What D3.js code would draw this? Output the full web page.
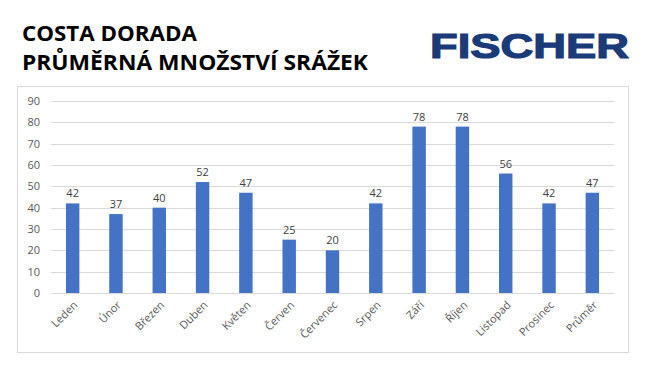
<!DOCTYPE html>
<html>
<head>
<meta charset="utf-8" />
<script src="https://d3js.org/d3.v7.min.js"></script>
<style>
  body { margin: 0; background: #fff; }
  svg { display: block; }
</style>
</head>
<body>
<div id="chart"></div>
<script>
  // data
  const months = ["Leden", "Únor", "Březen", "Duben", "Květen", "Červen", "Červenec",
                  "Srpen", "Září", "Říjen", "Listopad", "Prosinec", "Průměr"];
  const srazky = [42, 37, 40, 52, 47, 25, 20, 42, 78, 78, 56, 42, 47];
  const yTicks = [0, 10, 20, 30, 40, 50, 60, 70, 80, 90];
  const titleLines = ["COSTA DORADA", "PRŮMĚRNÁ MNOŽSTVÍ SRÁŽEK"];
  const titleWidths = [175, 346];

  const W = 648, H = 371;
  const margin = { top: 101, right: 34, bottom: 78, left: 51 },
      width = W - margin.left - margin.right,
      height = H - margin.top - margin.bottom;

  const svg = d3.select("#chart").append("svg")
      .attr("width", W).attr("height", H);

  // titles
  svg.selectAll(".title")
      .data(titleLines)
      .join("text")
      .attr("x", 22)
      .attr("y", (d, i) => 41 + i * 29)
      .attr("font-family", "Open Sans, sans-serif")
      .attr("font-weight", 700)
      .attr("font-size", 22)
      .attr("textLength", (d, i) => titleWidths[i])
      .attr("lengthAdjust", "spacingAndGlyphs")
      .attr("fill", "#000")
      .text(d => d);

  // logo text
  svg.append("text")
      .attr("x", 430).attr("y", 58)
      .attr("font-family", "Liberation Sans, Arial, sans-serif")
      .attr("font-weight", 700)
      .attr("font-size", 35)
      .attr("textLength", 199)
      .attr("lengthAdjust", "spacingAndGlyphs")
      .attr("fill", "#1b3b78")
      .attr("stroke", "#1b3b78")
      .attr("stroke-width", 1.2)
      .text("FISCHER");

  // chart border
  svg.append("rect")
      .attr("x", 17.5).attr("y", 86.5)
      .attr("width", 611).attr("height", 266)
      .attr("fill", "none")
      .attr("stroke", "#d9d9d9");

  const g = svg.append("g")
      .attr("transform", `translate(${margin.left},${margin.top})`);

  const x = d3.scaleBand()
      .domain(months)
      .range([0, width])
      .paddingInner(0.69)
      .paddingOuter(0.345);

  const y = d3.scaleLinear()
      .domain([0, 90])
      .range([height, 0]);

  // gridlines
  g.append("g")
      .selectAll("line")
      .data(yTicks)
      .join("line")
      .attr("x1", 0).attr("x2", width)
      .attr("y1", d => Math.round(y(d)) + 0.5)
      .attr("y2", d => Math.round(y(d)) + 0.5)
      .attr("stroke", "#d9d9d9");

  // y axis labels
  const yAxis = g.append("g")
      .call(d3.axisLeft(y).tickValues(yTicks).tickSize(0).tickPadding(11));
  yAxis.select(".domain").remove();
  yAxis.selectAll("text")
      .attr("font-family", "Open Sans, sans-serif")
      .attr("font-size", 11)
      .attr("fill", "#595959");

  // bars
  g.append("g")
      .selectAll("rect")
      .data(srazky)
      .join("rect")
      .attr("x", (d, i) => x(months[i]))
      .attr("y", d => y(d))
      .attr("width", x.bandwidth())
      .attr("height", d => height - y(d))
      .attr("fill", "#4472c4");

  // value labels
  g.append("g")
      .selectAll("text")
      .data(srazky)
      .join("text")
      .attr("x", (d, i) => x(months[i]) + x.bandwidth() / 2)
      .attr("y", d => y(d) - 6)
      .attr("text-anchor", "middle")
      .attr("font-family", "Open Sans, sans-serif")
      .attr("font-size", 11)
      .attr("fill", "#404040")
      .text(d => d);

  // x axis labels
  const xAxis = g.append("g")
      .attr("transform", `translate(0,${height})`)
      .call(d3.axisBottom(x).tickSize(0).tickPadding(0));
  xAxis.select(".domain").remove();
  xAxis.selectAll("text")
      .attr("font-family", "Open Sans, sans-serif")
      .attr("font-size", 11)
      .attr("fill", "#595959")
      .attr("text-anchor", "end")
      .attr("dy", "0.35em")
      .attr("transform", "translate(3,10) rotate(-45)");
</script>
</body>
</html>
